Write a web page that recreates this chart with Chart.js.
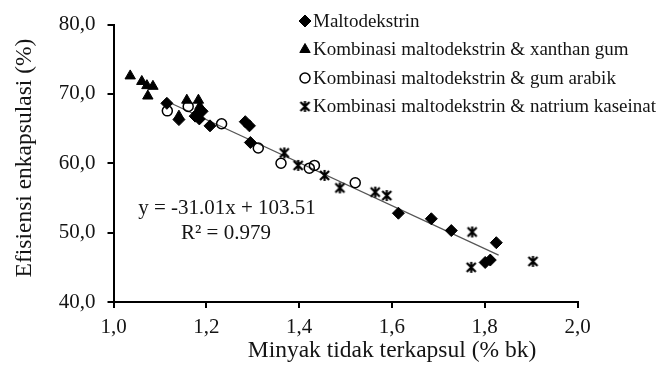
<!DOCTYPE html>
<html>
<head>
<meta charset="utf-8">
<script src="https://cdn.jsdelivr.net/npm/chart.js@4.4.1/dist/chart.umd.min.js"></script>
<style>
  body { margin: 0; background: #fff; }
  #wrap { width: 661px; height: 365px; position: relative; }
</style>
</head>
<body>
<div id="wrap"><canvas id="myChart"></canvas></div>
<script>
// data
const SERIES_NAMES = [
    'Maltodekstrin',
    'Kombinasi maltodekstrin & xanthan gum',
    'Kombinasi maltodekstrin & gum arabik',
    'Kombinasi maltodekstrin & natrium kaseinat'
];
const maltoX = [1.115, 1.141, 1.176, 1.182, 1.191, 1.185, 1.208, 1.284, 1.293, 1.295, 1.614, 1.685, 1.728, 1.825, 1.801, 1.812];
const maltoY = [68.65, 66.3, 66.8, 67.2, 67.5, 66.4, 65.4, 66.0, 65.4, 63.0, 52.8, 52.0, 50.3, 48.55, 45.7, 46.05];
const xanthanX = [1.036, 1.061, 1.072, 1.085, 1.074, 1.158, 1.183, 1.141, 1.186];
const xanthanY = [72.6, 71.8, 71.2, 71.1, 69.7, 69.1, 69.1, 66.8, 68.2];
const arabikX = [1.116, 1.161, 1.233, 1.312, 1.361, 1.422, 1.433, 1.521];
const arabikY = [67.56, 68.2, 65.7, 62.2, 60.0, 59.3, 59.7, 57.2];
const kaseinatX = [1.368, 1.398, 1.455, 1.488, 1.564, 1.589, 1.773, 1.771, 1.904];
const kaseinatY = [61.5, 59.7, 58.25, 56.45, 55.85, 55.35, 50.1, 45.0, 45.85];
const trendX = [1.11, 1.83];
const trendY = [69.09, 46.76];
const X_TICKS = [1.0, 1.2, 1.4, 1.6, 1.8, 2.0];
const Y_TICKS = [40, 50, 60, 70, 80];
const EQUATION = 'y = -31.01x + 103.51';
const R2_TEXT = 'R\u00B2 = 0.979';
const X_TITLE = 'Minyak tidak terkapsul (% bk)';
const Y_TITLE = 'Efisiensi enkapsulasi (%)';

const FONT = '"Liberation Serif", "Times New Roman", serif';
const TEXT_COLOR = '#141414';

function toPoints(xs, ys) {
    return xs.map((x, i) => ({ x: x, y: ys[i] }));
}

// excel style asterisk marker: X with a vertical bar
function makeAsterisk() {
    const c = document.createElement('canvas');
    c.width = 13; c.height = 13;
    const g = c.getContext('2d');
    g.strokeStyle = '#000';
    g.lineWidth = 2.2;
    g.beginPath();
    g.moveTo(2, 2); g.lineTo(11, 11);
    g.moveTo(11, 2); g.lineTo(2, 11);
    g.moveTo(6.5, 1); g.lineTo(6.5, 12);
    g.stroke();
    return c;
}
const asterisk = makeAsterisk();

const fmt = v => v.toFixed(1).replace('.', ',');

const overlay = {
    id: 'overlay',
    afterDraw(chart) {
        const ctx = chart.ctx;
        ctx.save();
        ctx.fillStyle = TEXT_COLOR;
        // equation
        ctx.font = '21px ' + FONT;
        ctx.textAlign = 'center';
        ctx.textBaseline = 'middle';
        ctx.fillText(EQUATION, 227, 208);
        ctx.fillText(R2_TEXT, 226, 233);
        // axis titles
        ctx.font = '23.5px ' + FONT;
        ctx.fillText(X_TITLE, 392, 351);
        ctx.save();
        ctx.translate(25, 158);
        ctx.rotate(-Math.PI / 2);
        ctx.fillText(Y_TITLE, 0, 0);
        ctx.restore();
        // legend
        ctx.font = '19px ' + FONT;
        ctx.textAlign = 'left';
        chart.data.datasets.forEach((ds, i) => {
            if (ds.type === 'line') return;
            const y = 21 + i * 28.5;
            ctx.fillStyle = ds.backgroundColor;
            ctx.strokeStyle = ds.borderColor;
            ctx.lineWidth = ds.borderWidth;
            Chart.helpers.drawPoint(ctx, {
                pointStyle: ds.pointStyle,
                radius: ds.pointRadius,
                rotation: 0,
                borderWidth: ds.borderWidth
            }, 305, y);
            ctx.fillStyle = TEXT_COLOR;
            ctx.fillText(ds.label, 313, y + 1);
        });
        ctx.restore();
    }
};

const ctx = document.getElementById('myChart');
new Chart(ctx, {
    type: 'scatter',
    data: {
        datasets: [{
            label: SERIES_NAMES[0],
            data: toPoints(maltoX, maltoY),
            pointStyle: 'rectRot',
            pointRadius: 6,
            backgroundColor: '#000',
            borderColor: '#000',
            borderWidth: 1
        }, {
            label: SERIES_NAMES[1],
            data: toPoints(xanthanX, xanthanY),
            pointStyle: 'triangle',
            pointRadius: 6,
            backgroundColor: '#000',
            borderColor: '#000',
            borderWidth: 1
        }, {
            label: SERIES_NAMES[2],
            data: toPoints(arabikX, arabikY),
            pointStyle: 'circle',
            pointRadius: 5,
            backgroundColor: 'rgba(255,255,255,0)',
            borderColor: '#000',
            borderWidth: 1.5
        }, {
            label: SERIES_NAMES[3],
            data: toPoints(kaseinatX, kaseinatY),
            pointStyle: asterisk,
            pointRadius: 6,
            backgroundColor: '#000',
            borderColor: '#000',
            borderWidth: 0
        }, {
            type: 'line',
            label: 'trend',
            data: toPoints(trendX, trendY),
            borderColor: '#555',
            borderWidth: 1.2,
            pointRadius: 0,
            fill: false,
            order: 10
        }]
    },
    options: {
        responsive: true,
        maintainAspectRatio: false,
        animation: false,
        layout: {
            padding: { top: 20, right: 83.5, left: 0, bottom: 0 }
        },
        plugins: {
            legend: { display: false },
            tooltip: { enabled: false }
        },
        scales: {
            x: {
                type: 'linear',
                min: 1,
                max: 2,
                afterBuildTicks: s => { s.ticks = X_TICKS.map(v => ({ value: v })); },
                afterFit: s => { s.height = 63; },
                ticks: {
                    callback: fmt,
                    color: TEXT_COLOR,
                    font: { family: FONT, size: 21 },
                    padding: 7,
                    maxRotation: 0
                },
                grid: {
                    drawOnChartArea: false,
                    drawTicks: true,
                    tickLength: 6,
                    color: '#000',
                    lineWidth: 2
                },
                border: { color: '#000', width: 2 }
            },
            y: {
                type: 'linear',
                min: 40,
                max: 80,
                afterBuildTicks: s => { s.ticks = Y_TICKS.map(v => ({ value: v })); },
                afterFit: s => { s.width = 113.5; },
                ticks: {
                    callback: fmt,
                    color: TEXT_COLOR,
                    font: { family: FONT, size: 21 },
                    padding: 12
                },
                grid: {
                    drawOnChartArea: false,
                    drawTicks: true,
                    tickLength: 6,
                    color: '#000',
                    lineWidth: 2
                },
                border: { color: '#000', width: 2 }
            }
        }
    },
    plugins: [overlay]
});
</script>
</body>
</html>
